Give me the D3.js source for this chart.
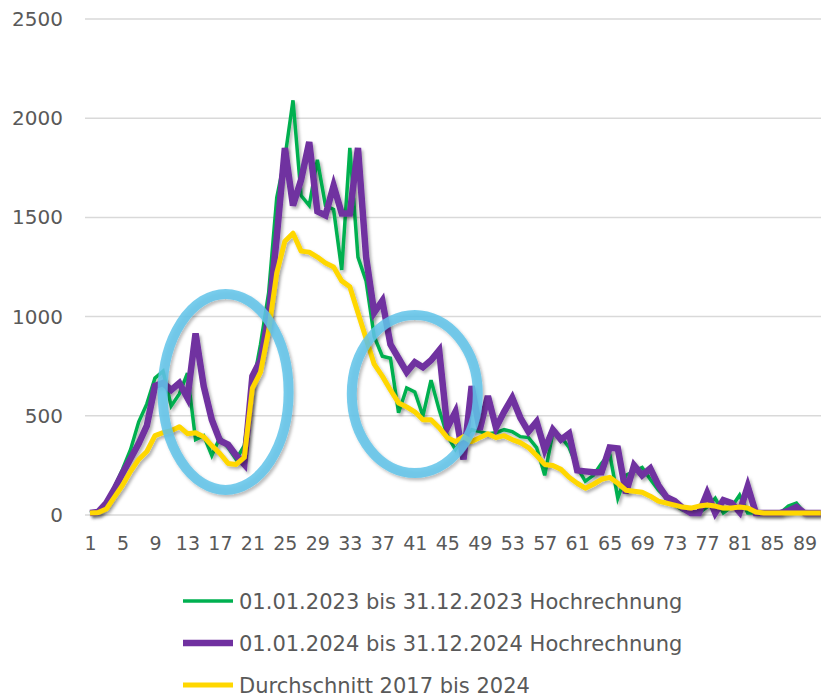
<!DOCTYPE html>
<html lang="de">
<head>
    <meta charset="UTF-8">
    <script src="https://d3js.org/d3.v7.min.js"></script>
    <title>Hochrechnung</title>
    <style>
        body { margin: 0; background: #fff; }
        text { font-family: "DejaVu Sans", sans-serif; fill: #595959; }
    </style>
</head>
<body>
    <script>

        // categories 1..91, labels every 4th
        var categories = d3.range(1, 92);
        var xTickLabels = [1,5,9,13,17,21,25,29,33,37,41,45,49,53,57,61,65,69,73,77,81,85,89];
        var yTicks = [0, 500, 1000, 1500, 2000, 2500];

        var green2023 = [10,20,60,140,230,330,470,560,690,725,
                         550,610,715,380,400,300,390,340,280,350,
                         640,860,1120,1600,1800,2090,1610,1560,1790,1560,
                         1540,1235,1850,1300,1180,900,800,790,515,640,
                         620,500,680,530,400,330,390,430,420,410,
                         415,430,420,395,390,340,200,415,395,340,
                         240,170,200,260,310,85,200,220,240,180,
                         125,85,50,25,15,10,40,85,10,40,
                         100,10,10,10,10,10,45,60,10,10,10];

        var purple2024 = [10,15,60,130,210,285,360,450,650,665,
                          630,665,590,915,650,480,375,355,300,255,
                          700,780,1000,1400,1850,1560,1690,1880,1530,1510,
                          1660,1520,1520,1850,1300,1020,1080,860,790,720,
                          770,745,780,830,440,520,280,650,430,600,
                          440,520,590,490,420,470,330,430,380,410,
                          225,220,215,215,340,335,110,250,200,235,
                          150,90,70,35,10,10,110,10,75,60,
                          15,145,10,10,10,10,20,40,10,10,10];

        var yellowAvg = [10,12,30,90,150,220,280,320,400,415,
                         425,445,410,415,395,350,310,260,255,290,
                         640,720,930,1220,1380,1420,1330,1325,1300,1270,
                         1250,1180,1150,1020,890,760,700,630,565,545,
                         520,480,480,440,390,370,395,370,390,410,
                         390,400,380,365,340,300,255,250,230,190,
                         160,135,155,180,190,160,125,120,115,95,
                         70,60,50,40,35,45,50,45,35,35,
                         40,35,15,10,10,10,10,10,10,10,10];

        var seriesNames = ["01.01.2023 bis 31.12.2023 Hochrechnung",
                           "01.01.2024 bis 31.12.2024 Hochrechnung",
                           "Durchschnitt 2017 bis 2024"];
        var seriesColors = ["#00b050", "#7030a0", "#ffd700"];
        var seriesWidths = [3.5, 6.5, 5];

        // highlighted ranges (category, value) -> ellipses
        var marks = [{cat: 17.7, val: 620, rx: 63, ry: 98},
                     {cat: 41, val: 610, rx: 63, ry: 79}];

        var svg = d3.select("body").append("svg").attr("width", 821).attr("height", 698)
                    .style("background", "#fff");

        var defs = svg.append("defs");
        var sh = defs.append("filter").attr("id", "shadow")
                     .attr("x", "-10%").attr("y", "-10%").attr("width", "130%").attr("height", "130%");
        sh.append("feDropShadow").attr("dx", 2).attr("dy", 2.5).attr("stdDeviation", 1.8)
          .attr("flood-color", "#000").attr("flood-opacity", 0.3);

        var x = d3.scalePoint().domain(categories).range([90, 90 + 90 * 8.12]);
        var y = d3.scaleLinear().domain([0, 2500]).range([515, 19]);

        // grid
        svg.append("g").selectAll("line").data(yTicks).join("line")
           .attr("x1", 85).attr("x2", 821)
           .attr("y1", d => y(d)).attr("y2", d => y(d))
           .attr("stroke", "#d9d9d9").attr("stroke-width", 1.5);

        var yAxis = svg.append("g").attr("transform", "translate(63,0)")
                       .call(d3.axisLeft(y).tickValues(yTicks).tickSize(0).tickPadding(0).tickFormat(d3.format("d")));
        yAxis.select(".domain").remove();
        yAxis.selectAll("text").style("font-size", "20px").style("font-family", null).attr("fill", null);

        var xAxis = svg.append("g").attr("transform", "translate(0,536)")
                       .call(d3.axisBottom(x).tickValues(xTickLabels).tickSize(0).tickPadding(0));
        xAxis.select(".domain").remove();
        xAxis.selectAll("text").style("font-size", "19px").style("font-family", null).attr("fill", null);

        var line = d3.line().x((d, i) => x(categories[i])).y(d => y(d));

        var allSeries = [green2023, purple2024, yellowAvg];
        svg.append("g").selectAll("path").data(allSeries).join("path")
           .attr("d", d => line(d))
           .attr("fill", "none")
           .attr("stroke", (d, i) => seriesColors[i])
           .attr("stroke-width", (d, i) => seriesWidths[i])
           .attr("stroke-linejoin", (d, i) => i == 2 ? "round" : "miter")
           .attr("filter", "url(#shadow)");

        // ellipses
        var xl = d3.scaleLinear().domain([1, 91]).range([90, 90 + 90 * 8.12]);
        svg.append("g").selectAll("ellipse").data(marks).join("ellipse")
           .attr("cx", d => xl(d.cat)).attr("cy", d => y(d.val))
           .attr("rx", d => d.rx).attr("ry", d => d.ry)
           .attr("fill", "none").attr("stroke", "#62c4ea").attr("stroke-width", 10)
           .attr("stroke-opacity", 0.85)
           .attr("filter", "url(#shadow)");

        // legend
        var lg = svg.append("g").selectAll("g").data(seriesNames).join("g")
                    .attr("transform", (d, i) => "translate(183," + (601 + i * 42) + ")");
        lg.append("line").attr("x1", 0).attr("x2", 50)
          .attr("stroke", (d, i) => seriesColors[i])
          .attr("stroke-width", (d, i) => seriesWidths[i]);
        lg.append("text").attr("x", 56).attr("dy", "0.36em").style("font-size", "21px").text(d => d);

    </script>
</body>
</html>
